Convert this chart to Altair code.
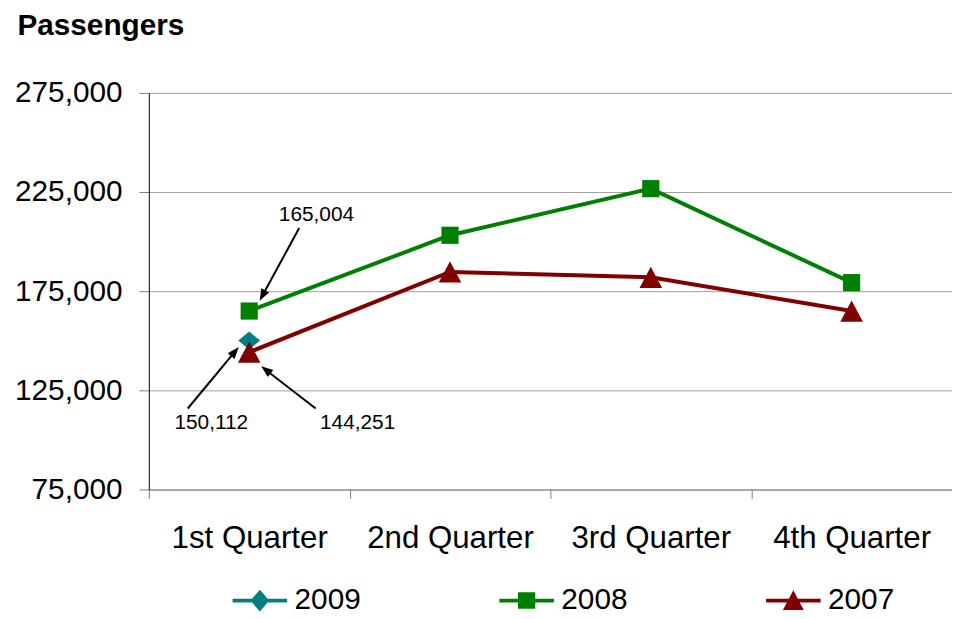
import altair as alt
import pandas as pd

# ---- data -------------------------------------------------------------
quarters = ["1st Quarter", "2nd Quarter", "3rd Quarter", "4th Quarter"]
years = ["2009", "2008", "2007"]
colors = ["#008080", "#008000", "#800000"]
pass_2009 = [150112, None, None, None]
pass_2008 = [165004, 203200, 226700, 179300]
pass_2007 = [144251, 184700, 182000, 165000]
y_ticks = [75000, 125000, 175000, 225000, 275000]

# annotations (value labels with arrows), positions in data units
ann_labels = ["165,004", "150,112", "144,251"]
ann_text_x = [0.335, -0.189, 0.540]
ann_text_y = [213500, 108500, 108500]
ann_from_x = [0.249, -0.306, 0.331]
ann_from_y = [206850, 115850, 115850]
ann_head_x = [0.066, -0.071, 0.083]
ann_head_y = [172800, 144550, 135300]
ann_angle = [208, 40, 308]

# ---- tables -----------------------------------------------------------
rows = []
for yr, vals in zip(years, [pass_2009, pass_2008, pass_2007]):
    for q, v in zip(quarters, vals):
        if v is not None:
            rows.append({"quarter": q, "year": yr, "value": v})
df = pd.DataFrame(rows)

ann = pd.DataFrame({
    "label": ann_labels, "tx": ann_text_x, "ty": ann_text_y,
    "sx": ann_from_x, "sy": ann_from_y, "hx": ann_head_x, "hy": ann_head_y,
    "ang": ann_angle,
})

FONT = "Liberation Sans"

# marker shapes (plot) and legend symbols (line + marker)
marker_paths = ["M0,-0.82L1,0L0,0.82L-1,0Z", "M-1,-1H1V1H-1Z", "M0,-1L1.06,1H-1.06Z"]
marker_sizes = [484, 300, 460]
bar = "M-2.75,-0.19H2.75V0.19H-2.75Z "
legend_paths = [
    bar + "M0,-1.1L0.95,0L0,1.1L-0.95,0Z",
    bar + "M-0.87,-0.83H0.87V0.83H-0.87Z",
    bar + "M0,-1.05L1.05,0.95H-1.05Z",
]

y_scale = alt.Scale(domain=[75000, 275000], nice=False, zero=False)
y_axis = alt.Axis(
    values=y_ticks, labelExpr="format(datum.value, ',')", title="Passengers", titleAngle=0,
    titleX=-133, titleY=-68, titleAlign="left", titleBaseline="middle",
    titleFontSize=30, titleFontWeight="bold", titleFont=FONT, titleColor="black",
    labelFontSize=30, labelFont=FONT, labelColor="black", labelPadding=17,
    tickSize=10, tickColor="#808080", domainColor="black", domainWidth=1,
    gridColor="#a0a0a0", grid=True,
)
x_scale = alt.Scale(type="band", domain=quarters, paddingInner=0, paddingOuter=0)
x_axis = alt.Axis(
    title=None, labelAngle=0, labelFontSize=31.5, labelFont=FONT, labelColor="black",
    labelPadding=24, tickBand="extent", tickSize=9, tickColor="#808080",
    domainColor="#808080", grid=False,
)

base = alt.Chart(df)
x_main = alt.X("quarter:N", scale=x_scale, axis=x_axis, sort=quarters, bandPosition=0.5)
y_main = alt.Y("value:Q", scale=y_scale, axis=y_axis)
col_scale = alt.Scale(domain=years, range=colors)

lines = base.mark_line(strokeWidth=4).encode(
    x=x_main, y=y_main,
    color=alt.Color("year:N", scale=col_scale, legend=None),
)
points = base.mark_point(filled=True, opacity=1).encode(
    x=x_main, y=y_main,
    color=alt.Color("year:N", scale=col_scale, legend=None),
    shape=alt.Shape("year:N", scale=alt.Scale(domain=years, range=marker_paths), legend=None),
    size=alt.Size("year:N", scale=alt.Scale(type="ordinal", domain=years, range=marker_sizes), legend=None),
)
leg = alt.Legend(
    title=None, orient="none", legendX=97, legendY=497, direction="horizontal",
    columnPadding=139, labelOffset=20, labelFontSize=30, labelFont=FONT,
    labelColor="black", symbolSize=400, symbolStrokeWidth=0,
)
legend_layer = base.transform_filter("false").mark_point(filled=True, size=400, opacity=1).encode(
    x=x_main, y=y_main,
    color=alt.Color("year:N", scale=col_scale, legend=leg, sort=years),
    shape=alt.Shape("year:N", scale=alt.Scale(domain=years, range=legend_paths), legend=leg, sort=years),
)

main = alt.layer(lines, points, legend_layer).resolve_scale(
    color="independent", shape="independent"
)

abase = alt.Chart(ann)
ax_scale = alt.Scale(domain=[-0.5, 3.5], nice=False, zero=False)
texts = abase.mark_text(fontSize=21, font=FONT, color="black", align="center", baseline="middle").encode(
    x=alt.X("tx:Q", scale=ax_scale, axis=None),
    y=alt.Y("ty:Q", scale=y_scale, axis=y_axis),
    text="label:N",
)
arrows = abase.mark_rule(color="black", strokeWidth=2).encode(
    x=alt.X("sx:Q", scale=ax_scale, axis=None),
    y=alt.Y("sy:Q", scale=y_scale, axis=y_axis),
    x2="hx:Q", y2="hy:Q",
)
heads = abase.mark_point(filled=True, color="black", opacity=1, size=144,
                         shape="M0,-1L0.75,1L-0.75,1Z").encode(
    x=alt.X("hx:Q", scale=ax_scale, axis=None),
    y=alt.Y("hy:Q", scale=y_scale, axis=y_axis),
    angle=alt.Angle("ang:Q", scale=None),
)
annot = alt.layer(texts, arrows, heads)

chart = alt.layer(main, annot).resolve_scale(x="independent").properties(
    width=810, height=400, autosize="none",
    padding={"left": 142, "top": 83, "right": 0, "bottom": 128},
).configure_view(stroke=None)

chart.save("out.html", embed_options={"renderer": "svg", "actions": False})
